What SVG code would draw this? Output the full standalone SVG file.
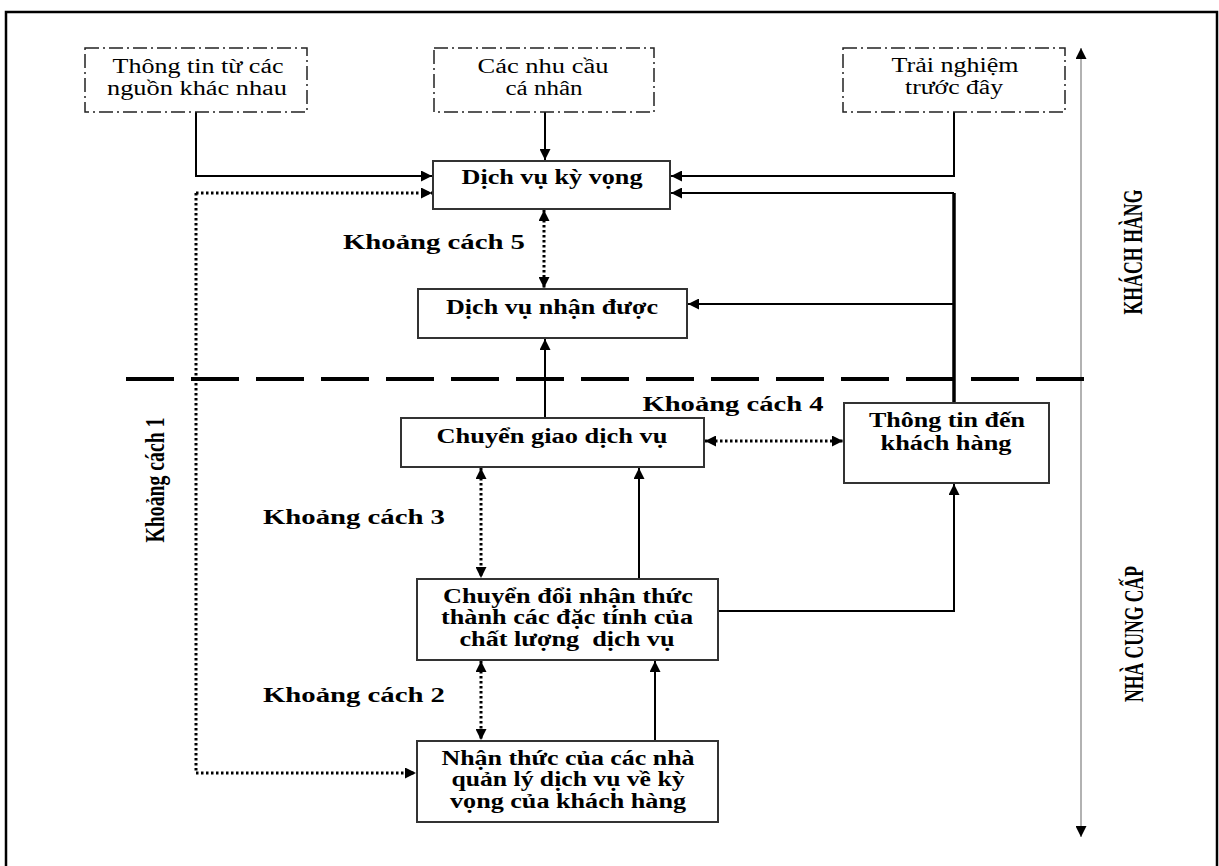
<svg xmlns="http://www.w3.org/2000/svg" width="1219" height="866" viewBox="0 0 1219 866">
<style>
.frame{fill:none;stroke:#000;stroke-width:2.5}
.src{fill:#fff;stroke:#222;stroke-width:1.5;stroke-dasharray:14 4 2 4}
.box{fill:#fff;stroke:#333;stroke-width:2}
.ln{fill:none;stroke:#000;stroke-width:2}
.thick{fill:none;stroke:#000;stroke-width:3.5}
.dot{fill:none;stroke:#000;stroke-width:3;stroke-dasharray:2.5 2.5}
.axis{fill:none;stroke:#999;stroke-width:1.5}
.sep{fill:none;stroke:#000;stroke-width:4;stroke-dasharray:48 17}
.r{font-family:"Liberation Serif","Times New Roman",serif;font-size:20px;fill:#000;text-anchor:middle}
.b{font-family:"Liberation Serif","Times New Roman",serif;font-size:20px;font-weight:bold;fill:#000;text-anchor:middle}
</style>
<defs>
<marker id="ah" viewBox="0 0 10 10" refX="10" refY="5" markerWidth="12" markerHeight="11" markerUnits="userSpaceOnUse" orient="auto-start-reverse">
<path d="M0,0 L10,5 L0,10 z" fill="#000"/>
</marker>
</defs>
<rect class="frame" x="6" y="12" width="1211" height="880"/>

<g id="connectors">
<path class="ln" d="M196 112 V176 H432" marker-end="url(#ah)"/>
<path class="ln" d="M545 112 V160" marker-end="url(#ah)"/>
<path class="ln" d="M954 112 V176 H671" marker-end="url(#ah)"/>
<path class="ln" d="M954 193 H671" marker-end="url(#ah)"/>
<path class="thick" d="M954 403 V193"/>
<path class="ln" d="M954 304 H688" marker-end="url(#ah)"/>
<path class="dot" d="M196 193 H432" marker-end="url(#ah)"/>
<path class="dot" d="M196 193 V773 H416" marker-end="url(#ah)"/>
<path class="dot" d="M544 210 V288" marker-start="url(#ah)" marker-end="url(#ah)"/>
<path class="ln" d="M545 418 V339" marker-end="url(#ah)"/>
<path class="dot" d="M705 441 H843" marker-start="url(#ah)" marker-end="url(#ah)"/>
<path class="dot" d="M481 468 V578" marker-start="url(#ah)" marker-end="url(#ah)"/>
<path class="ln" d="M639 579 V468" marker-end="url(#ah)"/>
<path class="ln" d="M718 611 H954 V484" marker-end="url(#ah)"/>
<path class="dot" d="M481 661 V740" marker-start="url(#ah)" marker-end="url(#ah)"/>
<path class="ln" d="M655 741 V661" marker-end="url(#ah)"/>
<path class="axis" d="M1081 48 V837" marker-start="url(#ah)" marker-end="url(#ah)"/>
<path class="sep" d="M126 379 H1085"/>
</g>

<g id="src1">
<rect class="src" x="85" y="48" width="222" height="64"/>
<text class="r" x="198" y="73" textLength="171" lengthAdjust="spacingAndGlyphs">Thông tin từ các</text>
<text class="r" x="197" y="95" textLength="180" lengthAdjust="spacingAndGlyphs">nguồn khác nhau</text>
</g>
<g id="src2">
<rect class="src" x="434" y="48" width="220" height="64"/>
<text class="r" x="543" y="73" textLength="131" lengthAdjust="spacingAndGlyphs">Các nhu cầu</text>
<text class="r" x="544" y="95" textLength="77" lengthAdjust="spacingAndGlyphs">cá nhân</text>
</g>
<g id="src3">
<rect class="src" x="843" y="48" width="222" height="64"/>
<text class="r" x="955" y="72" textLength="127" lengthAdjust="spacingAndGlyphs">Trải nghiệm</text>
<text class="r" x="954" y="94" textLength="98" lengthAdjust="spacingAndGlyphs">trước đây</text>
</g>

<g id="expected">
<rect class="box" x="433" y="161" width="237" height="48"/>
<text class="b" x="552" y="184" textLength="181" lengthAdjust="spacingAndGlyphs">Dịch vụ kỳ vọng</text>
</g>
<g id="gap5">
<text class="b" x="434" y="249" textLength="182" lengthAdjust="spacingAndGlyphs">Khoảng cách 5</text>
</g>
<g id="perceived">
<rect class="box" x="418" y="289" width="269" height="49"/>
<text class="b" x="552" y="314" textLength="212" lengthAdjust="spacingAndGlyphs">Dịch vụ nhận được</text>
</g>
<g id="gap4">
<text class="b" x="733" y="411" textLength="181" lengthAdjust="spacingAndGlyphs">Khoảng cách 4</text>
</g>
<g id="delivery">
<rect class="box" x="401" y="418" width="303" height="49"/>
<text class="b" x="552" y="443" textLength="231" lengthAdjust="spacingAndGlyphs">Chuyển giao dịch vụ</text>
</g>
<g id="comm">
<rect class="box" x="844" y="403" width="205" height="80"/>
<text class="b" x="947" y="427" textLength="156" lengthAdjust="spacingAndGlyphs">Thông tin đến</text>
<text class="b" x="946" y="450" textLength="131" lengthAdjust="spacingAndGlyphs">khách hàng</text>
</g>
<g id="gap3">
<text class="b" x="354" y="524" textLength="182" lengthAdjust="spacingAndGlyphs">Khoảng cách 3</text>
</g>
<g id="specs">
<rect class="box" x="417" y="579" width="301" height="81"/>
<text class="b" x="568" y="603" textLength="250" lengthAdjust="spacingAndGlyphs">Chuyển đổi nhận thức</text>
<text class="b" x="567" y="624" textLength="252" lengthAdjust="spacingAndGlyphs">thành các đặc tính của</text>
<text class="b" x="567" y="646" textLength="215" lengthAdjust="spacingAndGlyphs">chất lượng&#160; dịch vụ</text>
</g>
<g id="gap2">
<text class="b" x="354" y="702" textLength="182" lengthAdjust="spacingAndGlyphs">Khoảng cách 2</text>
</g>
<g id="mgmt">
<rect class="box" x="417" y="741" width="301" height="81"/>
<text class="b" x="568" y="765" textLength="253" lengthAdjust="spacingAndGlyphs">Nhận thức của các nhà</text>
<text class="b" x="568" y="786" textLength="233" lengthAdjust="spacingAndGlyphs">quản lý dịch vụ về kỳ</text>
<text class="b" x="568" y="808" textLength="236" lengthAdjust="spacingAndGlyphs">vọng của khách hàng</text>
</g>
<g id="gap1">
<text class="b" transform="translate(164,480) scale(1.35,1) rotate(-90)" x="0" y="0" textLength="125" lengthAdjust="spacingAndGlyphs">Khoảng cách 1</text>
</g>
<g id="customer">
<text class="b" transform="translate(1142,252) scale(1.35,1) rotate(-90)" x="0" y="0" textLength="125" lengthAdjust="spacingAndGlyphs">KHÁCH HÀNG</text>
</g>
<g id="provider">
<text class="b" transform="translate(1143,634) scale(1.35,1) rotate(-90)" x="0" y="0" textLength="136" lengthAdjust="spacingAndGlyphs">NHÀ CUNG CẤP</text>
</g>
</svg>
